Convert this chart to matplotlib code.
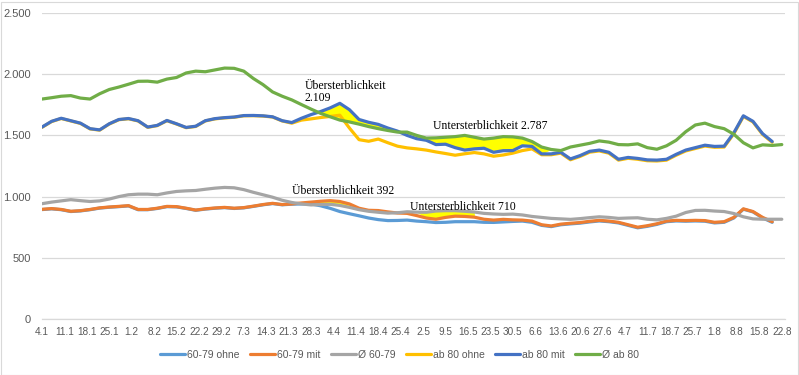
import numpy as np
import matplotlib
matplotlib.use("Agg")
import matplotlib.pyplot as plt
from matplotlib.ticker import FuncFormatter, MultipleLocator
from matplotlib.patches import Rectangle

# ---- data ----
# days since 4.1., every 3 days
days = list(range(0, 232, 3))

tick_labels = ["4.1", "11.1", "18.1", "25.1", "1.2", "8.2", "15.2", "22.2", "29.2",
               "7.3", "14.3", "21.3", "28.3", "4.4", "11.4", "18.4", "25.4", "2.5",
               "9.5", "16.5", "23.5", "30.5", "6.6", "13.6", "20.6", "27.6", "4.7",
               "11.7", "18.7", "25.7", "1.8", "8.8", "15.8", "22.8"]

avg_80 = [1797, 1808, 1820, 1825, 1805, 1797, 1840, 1875, 1895, 1918, 1942, 1943,
          1935, 1960, 1973, 2010, 2025, 2020, 2035, 2050, 2048, 2025, 1965, 1915,
          1855, 1820, 1790, 1752, 1715, 1680, 1652, 1625, 1610, 1592, 1572, 1555,
          1540, 1527, 1527, 1500, 1478, 1480, 1485, 1490, 1500, 1485, 1470, 1478,
          1490, 1488, 1478, 1450, 1405, 1385, 1376, 1405, 1420, 1435, 1455, 1445,
          1425, 1423, 1431, 1400, 1387, 1415, 1460, 1530, 1585, 1600, 1572, 1555,
          1510, 1440, 1398, 1423, 1418, 1425]

mit_80 = [1568, 1615, 1640, 1620, 1600, 1555, 1545, 1595, 1630, 1638, 1620, 1568,
          1582, 1622, 1595, 1565, 1575, 1620, 1637, 1645, 1650, 1662, 1663, 1660,
          1652, 1620, 1605, 1640, 1670, 1695, 1725, 1762, 1710, 1630, 1607, 1590,
          1560, 1535, 1500, 1473, 1460, 1425, 1428, 1400, 1380, 1390, 1395, 1362,
          1375, 1376, 1415, 1410, 1349, 1349, 1362, 1308, 1335, 1370, 1380, 1362,
          1305, 1320, 1312, 1300, 1298, 1305, 1345, 1380, 1400, 1420, 1410, 1412,
          1520, 1660, 1615, 1514, 1450, np.nan]

ohne_80 = [1566, 1613, 1638, 1618, 1598, 1553, 1543, 1593, 1628, 1636, 1618, 1566,
           1580, 1620, 1593, 1563, 1573, 1618, 1635, 1643, 1648, 1660, 1661, 1658,
           1650, 1618, 1600, 1625, 1635, 1646, 1655, 1665, 1560, 1465, 1452, 1470,
           1440, 1412, 1398, 1390, 1380, 1365, 1352, 1338, 1350, 1360, 1349, 1330,
           1340, 1355, 1376, 1390, 1342, 1342, 1355, 1301, 1328, 1363, 1373, 1355,
           1298, 1313, 1305, 1293, 1291, 1298, 1338, 1373, 1393, 1413, 1403, 1405,
           1513, 1655, 1610, 1508, 1444, np.nan]

avg_6079 = [942, 955, 965, 975, 967, 960, 965, 980, 1000, 1015, 1020, 1020,
            1015, 1030, 1042, 1047, 1050, 1060, 1069, 1075, 1072, 1057, 1035, 1015,
            995, 970, 952, 940, 932, 935, 937, 928, 912, 893, 880, 872,
            865, 868, 876, 873, 872, 882, 885, 885, 880, 874, 863, 858,
            855, 857, 850, 838, 830, 822, 818, 814, 820, 828, 835, 830,
            822, 825, 827, 815, 810, 822, 840, 870, 887, 888, 882, 878,
            862, 835, 818, 815, 815, 815]

mit_6079 = [896, 902, 895, 880, 885, 895, 908, 915, 920, 926, 895, 895,
            905, 920, 918, 905, 890, 900, 907, 912, 905, 910, 922, 935,
            945, 935, 940, 948, 955, 962, 967, 960, 940, 905, 888, 886,
            875, 866, 863, 845, 825, 815, 830, 840, 838, 832, 815, 808,
            814, 810, 808, 800, 770, 760, 775, 782, 788, 798, 806, 800,
            790, 770, 750, 762, 778, 800, 806, 804, 806, 804, 790, 795,
            830, 900, 878, 830, 795, np.nan]

ohne_6079 = [894, 900, 893, 878, 883, 893, 906, 913, 918, 924, 893, 893,
             903, 918, 916, 903, 888, 898, 905, 910, 903, 908, 920, 933,
             943, 933, 938, 940, 940, 925, 904, 878, 860, 843, 825, 812,
             804, 805, 808, 800, 795, 788, 790, 795, 795, 795, 790, 789,
             793, 797, 800, 790, 765, 755, 770, 777, 783, 793, 801, 795,
             785, 765, 745, 757, 773, 795, 801, 799, 801, 799, 785, 790,
             825, 897, 875, 826, 790, np.nan]

series_names = ["60-79 ohne", "60-79 mit", "Ø 60-79", "ab 80 ohne", "ab 80 mit", "Ø ab 80"]
series_colors = ["#5B9BD5", "#ED7D31", "#A5A5A5", "#FFC000", "#4472C4", "#70AD47"]

# shaded spans (day ranges) and their annotations
over_80_span = (81, 111)
under_80_span = (111, 156)
over_6079_span = (81, 99)
under_6079_span = (119, 136)

# ---- plotting ----
x = np.array(days, dtype=float)
data = [np.array(s, dtype=float) for s in
        (ohne_6079, mit_6079, avg_6079, ohne_80, mit_80, avg_80)]

fig = plt.figure(figsize=(7.99, 3.75), dpi=100)
ax = fig.add_axes([42 / 799, 1 - 319 / 375, (785 - 42) / 799, (319 - 13) / 375])

fill_col = "#FFFF00"
mit80 = data[4]; av80 = data[5]; mit6 = data[1]; av6 = data[2]

def span(sp):
    return (x >= sp[0]) & (x <= sp[1])

ax.fill_between(x, mit80, av80, where=span(over_80_span) & (mit80 >= av80),
                interpolate=True, color=fill_col, lw=0, zorder=1)
ax.fill_between(x, av80, mit80, where=span(under_80_span) & (av80 >= mit80),
                interpolate=True, color=fill_col, lw=0, zorder=1)
ax.fill_between(x, mit6, av6, where=span(over_6079_span) & (mit6 >= av6),
                interpolate=True, color=fill_col, lw=0, zorder=1)
ax.fill_between(x, av6, mit6, where=span(under_6079_span) & (av6 >= mit6),
                interpolate=True, color=fill_col, lw=0, zorder=1)

for y, name, col in zip(data, series_names, series_colors):
    ax.plot(x, y, color=col, lw=2.3, label=name, zorder=3,
            solid_joinstyle="round", solid_capstyle="round")

ax.set_xlim(0, 232)
ax.set_ylim(0, 2500)
ax.yaxis.set_major_locator(MultipleLocator(500))
ax.yaxis.set_major_formatter(FuncFormatter(lambda v, p: f"{v:,.0f}".replace(",", ".")))
ax.set_xticks(np.arange(len(tick_labels)) * 7)
ax.set_xticklabels(tick_labels)
ax.grid(axis="y", color="#D9D9D9", lw=0.9, zorder=0)
for s in ("top", "right", "left"):
    ax.spines[s].set_visible(False)
ax.spines["bottom"].set_color("#D9D9D9")
ax.spines["bottom"].set_linewidth(0.9)
ax.tick_params(axis="both", length=0, colors="#595959")
ax.tick_params(axis="y", labelsize=8, pad=8)
ax.tick_params(axis="x", labelsize=7.2, pad=6)
for lab in ax.get_xticklabels():
    lab.set_family(["Liberation Sans Narrow", "Liberation Sans", "DejaVu Sans"])
for lab in ax.get_yticklabels():
    lab.set_family(["Liberation Sans", "DejaVu Sans"])

serif = ["Liberation Serif", "DejaVu Serif"]
ann_kw = dict(family=serif, fontsize=8.5, color="black", zorder=5)
ax.text(82, 1950, "Übersterblichkeit\n2.109", va="top", ha="left", linespacing=1.0, **ann_kw)
ax.text(122, 1580, "Untersterblichkeit 2.787", va="center", ha="left", **ann_kw)
ax.text(78, 1045, "Übersterblichkeit 392", va="center", ha="left", **ann_kw)
ax.text(115, 912, "Untersterblichkeit 710", va="center", ha="left", **ann_kw)

leg = fig.legend(loc="center", bbox_to_anchor=(0.5, 1 - 355 / 375), ncol=6,
                 frameon=False, handlelength=2.4, handletextpad=0.2,
                 columnspacing=1.0, labelcolor="#595959",
                 prop={"family": ["Liberation Sans Narrow", "Liberation Sans", "DejaVu Sans"], "size": 7.5})
for h in leg.legend_handles:
    h.set_linewidth(2.3)

fig.patches.append(Rectangle((0.5 / 799, 0.5 / 375), 797 / 799, 373 / 375,
                             transform=fig.transFigure, fill=False,
                             edgecolor="#D9D9D9", lw=0.8))

fig.savefig("out.png", dpi=100, facecolor="white")
